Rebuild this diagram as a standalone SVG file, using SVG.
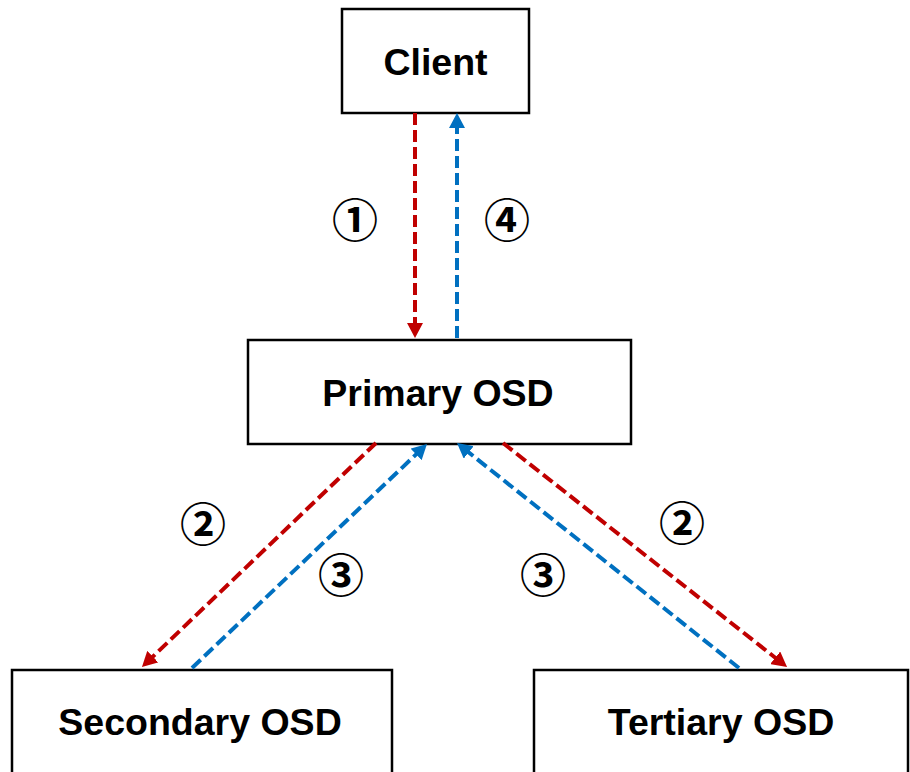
<svg xmlns="http://www.w3.org/2000/svg" width="910" height="772" viewBox="0 0 910 772">
  <style>
    .box { fill: #ffffff; stroke: #000000; stroke-width: 2.5; }
    .label { font-family: "Liberation Sans", Arial, sans-serif; font-weight: bold; font-size: 37.5px; fill: #000000; text-anchor: middle; dominant-baseline: central; }
    .step { font-family: "Noto Sans CJK SC", "DejaVu Sans", sans-serif; font-weight: bold; font-size: 46px; fill: #000000; text-anchor: middle; dominant-baseline: central; }
    .req { fill: none; stroke: #C00000; stroke-width: 4; stroke-dasharray: 12 5; marker-end: url(#head-red); }
    .rsp { fill: none; stroke: #0070C0; stroke-width: 4; stroke-dasharray: 12 5; marker-end: url(#head-blue); }
  </style>
  <defs>
    <marker id="head-red" markerUnits="userSpaceOnUse" markerWidth="16" markerHeight="16" viewBox="0 0 16 16" refX="4" refY="8" orient="auto">
      <path d="M0,0 L15,8 L0,16 z" fill="#C00000"/>
    </marker>
    <marker id="head-blue" markerUnits="userSpaceOnUse" markerWidth="16" markerHeight="16" viewBox="0 0 16 16" refX="4" refY="8" orient="auto">
      <path d="M0,0 L15,8 L0,16 z" fill="#0070C0"/>
    </marker>
  </defs>

  <rect width="910" height="772" fill="#ffffff"/>

  <g id="client">
    <rect class="box" x="342" y="9" width="187" height="104"/>
    <text class="label" x="435.5" y="62">Client</text>
  </g>

  <g id="primary-osd">
    <rect class="box" x="248" y="340" width="383" height="104"/>
    <text class="label" x="438" y="393">Primary OSD</text>
  </g>

  <g id="secondary-osd">
    <rect class="box" x="12" y="670" width="380" height="110"/>
    <text class="label" x="200" y="722">Secondary OSD</text>
  </g>

  <g id="tertiary-osd">
    <rect class="box" x="534" y="670" width="374" height="110"/>
    <text class="label" x="721" y="722">Tertiary OSD</text>
  </g>

  <g id="connectors">
    <line class="req" x1="415" y1="113" x2="415" y2="327"/>
    <line class="rsp" x1="457" y1="338" x2="457" y2="124"/>
    <line class="req" x1="376" y1="443" x2="149.9" y2="659.4"/>
    <line class="rsp" x1="192" y1="668" x2="419.0" y2="451.6"/>
    <line class="req" x1="503" y1="443" x2="778.4" y2="660.2"/>
    <line class="rsp" x1="739" y1="668" x2="465.6" y2="449.9"/>
  </g>

  <g id="steps">
    <text class="step" x="355" y="217">①</text>
    <text class="step" x="507" y="217">④</text>
    <text class="step" x="203" y="521">②</text>
    <text class="step" x="341" y="572">③</text>
    <text class="step" x="682" y="520">②</text>
    <text class="step" x="543" y="572">③</text>
  </g>
</svg>
